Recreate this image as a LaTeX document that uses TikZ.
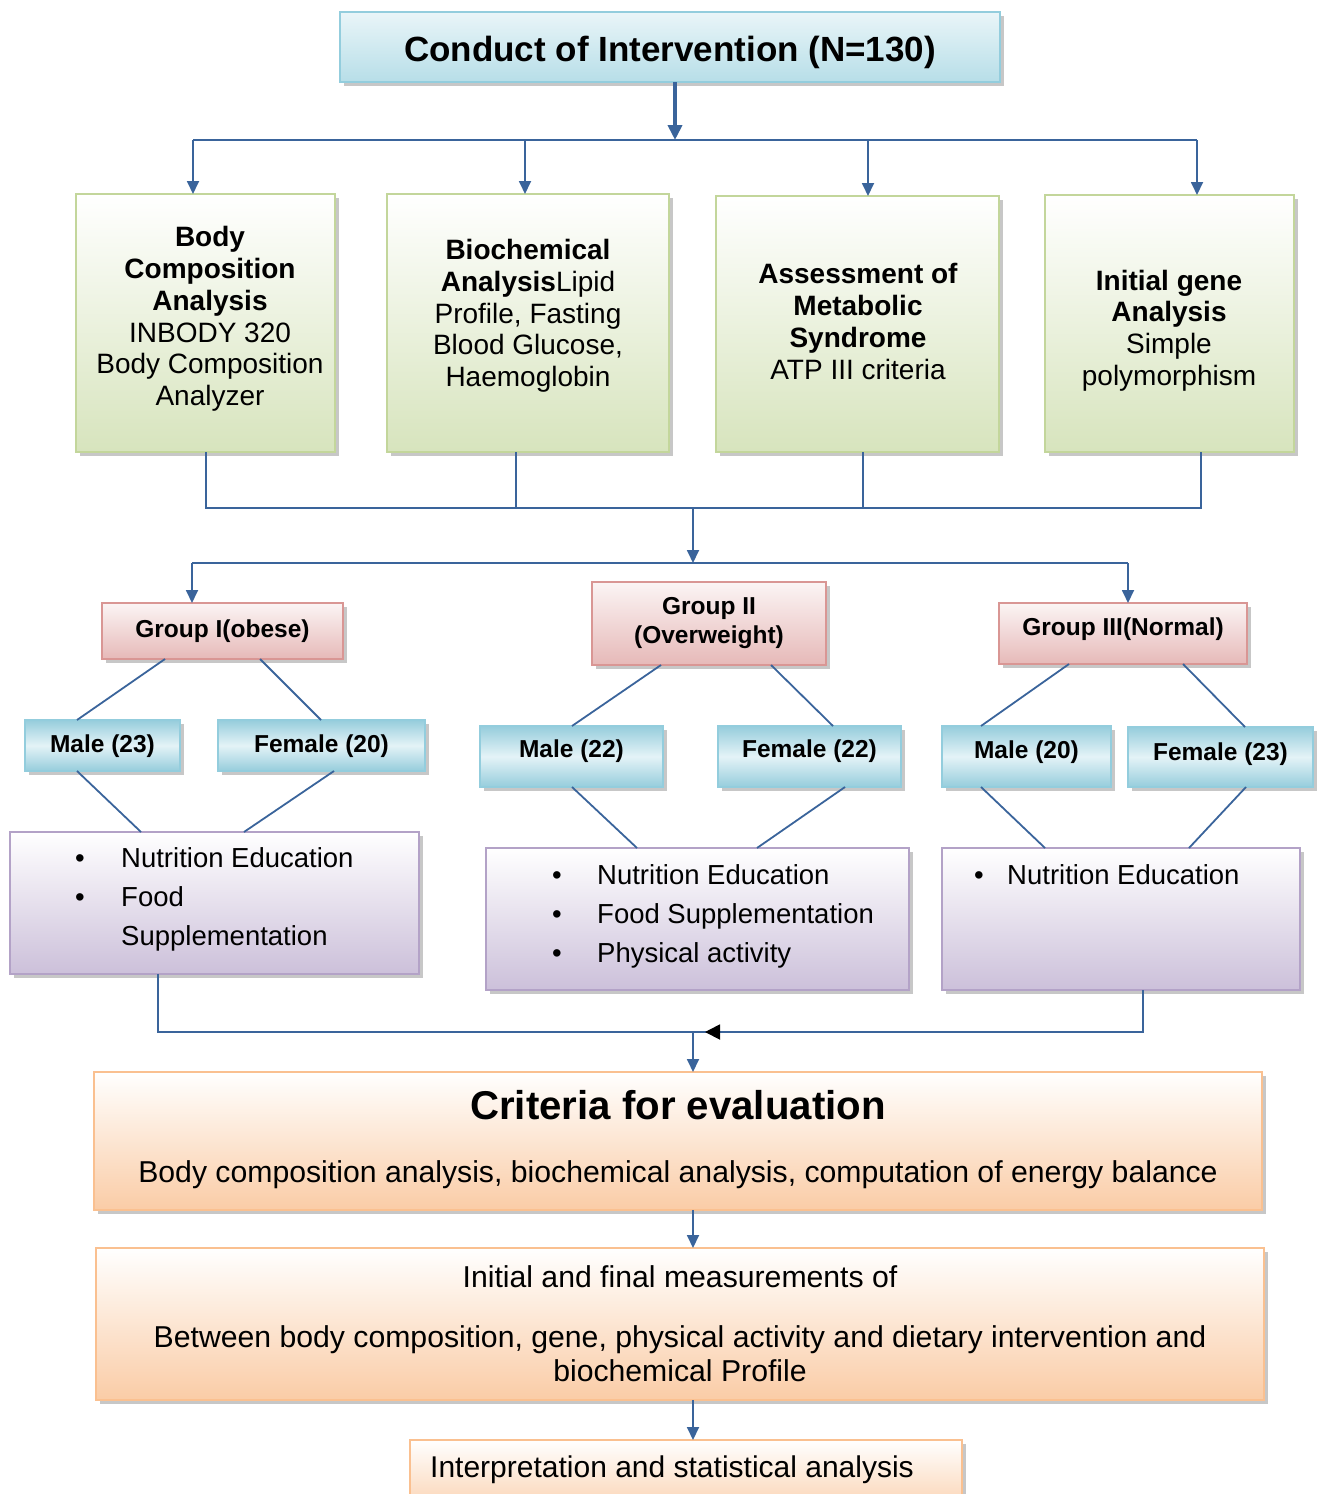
\documentclass[tikz,border=0pt]{standalone}
\usepackage{fontspec}
\setmainfont{Liberation Sans}
\usetikzlibrary{arrows.meta,shadows}
\definecolor{lc}{RGB}{58,100,155}
\definecolor{tealB}{RGB}{147,205,221}
\definecolor{tealF}{RGB}{183,222,232}
\definecolor{tealD}{RGB}{150,205,220}
\definecolor{tealL}{RGB}{228,243,247}
\definecolor{greenB}{RGB}{195,214,155}
\definecolor{greenF}{RGB}{215,228,189}
\definecolor{redB}{RGB}{217,150,148}
\definecolor{redF}{RGB}{230,185,184}
\definecolor{purB}{RGB}{179,162,199}
\definecolor{purF}{RGB}{204,192,218}
\definecolor{orB}{RGB}{250,192,144}
\definecolor{orF}{RGB}{250,204,166}
\newcommand{\rb}[2]{\raisebox{#1}[\height][\depth]{#2}}
\begin{document}
\begin{tikzpicture}[x=1pt,y=-1pt,
  conn/.style={draw=lc, line width=1.8pt},
  arr/.style={conn, -{Triangle[width=12pt,length=13pt]}},
  bigarr/.style={draw=lc, line width=4pt, -{Triangle[width=14pt,length=15pt]}},
  box/.style={draw, line width=1.6pt, inner sep=2pt, outer sep=0pt, anchor=north west, align=center,
    drop shadow={shadow xshift=4pt, shadow yshift=-4pt, fill=black!40, opacity=.55}},
  titlebox/.style={box, draw=tealB, top color=tealF!30, bottom color=tealF},
  greenbox/.style={box, draw=greenB, top color=white, bottom color=greenF},
  gtxt/.style={inner sep=0pt, align=center, font=\fontsize{28}{31.7}\selectfont},
  redbox/.style={box, draw=redB, top color=redF!15, bottom color=redF, font=\bfseries\fontsize{24.5}{29}\selectfont},
  sexbox/.style={box, draw=tealB, shading angle=-45, top color=tealD, bottom color=tealD, middle color=tealL, font=\bfseries\fontsize{24.5}{29}\selectfont},
  purbox/.style={box, draw=purB, top color=white, bottom color=purF},
  orbox/.style={box, draw=orB, top color=white, bottom color=orF},
  ptxt/.style={anchor=base west, inner sep=0pt, font=\fontsize{27.5}{33}\selectfont},
  bul/.style={anchor=base, inner sep=0pt, font=\fontsize{27.5}{33}\selectfont},
  otxt/.style={inner sep=0pt, align=center, font=\fontsize{30.2}{34}\selectfont},
]
\useasboundingbox (0,0) rectangle (1320,1494);

% ---------- boxes ----------
\node[titlebox, minimum width=660pt, minimum height=70pt, font=\bfseries\fontsize{35}{40}\selectfont] (top) at (340,12) {\rb{-5pt}{Conduct of Intervention (N=130)}};

\node[greenbox, minimum width=259pt, minimum height=258pt] (g1) at (76,194) {};
\node[greenbox, minimum width=282pt, minimum height=258pt] (g2) at (387,194) {};
\node[greenbox, minimum width=283pt, minimum height=256pt] (g3) at (716,196) {};
\node[greenbox, minimum width=249pt, minimum height=257pt] (g4) at (1045,195) {};
\node[gtxt] (g1t) at (210,319)
  {\textbf{Body}\\\textbf{Composition}\\\textbf{Analysis}\\INBODY 320\\Body Composition\\Analyzer};
\node[gtxt] (g2t) at (528,316)
  {\textbf{Biochemical}\\\textbf{Analysis}Lipid\\Profile, Fasting\\Blood Glucose,\\Haemoglobin};
\node[gtxt] (g3t) at (858,321.5)
  {\textbf{Assessment of}\\\textbf{Metabolic}\\\textbf{Syndrome}\\ATP III criteria};
\node[gtxt] (g4t) at (1169,330.5)
  {\textbf{Initial gene}\\\textbf{Analysis}\\Simple\\polymorphism};

\node[redbox, minimum width=241pt, minimum height=56pt] (grI) at (102,603) {Group I(obese)};
\node[redbox, minimum width=234pt, minimum height=83pt] (grII) at (592,582) {Group II\\(Overweight)};
\node[redbox, minimum width=248pt, minimum height=61pt] (grIII) at (999,603) {\rb{4pt}{Group III(Normal)}};

\node[sexbox, minimum width=155pt, minimum height=51pt] (m1) at (25,720) {\rb{-1pt}{Male (23)}};
\node[sexbox, minimum width=207pt, minimum height=51pt] (f1) at (218,720) {\rb{-1pt}{Female (20)}};
\node[sexbox, minimum width=183pt, minimum height=61pt] (m2) at (480,726) {\rb{5pt}{Male (22)}};
\node[sexbox, minimum width=183pt, minimum height=61pt] (f2) at (718,726) {\rb{5pt}{Female (22)}};
\node[sexbox, minimum width=169pt, minimum height=61pt] (m3) at (942,726) {\rb{4pt}{Male (20)}};
\node[sexbox, minimum width=185pt, minimum height=60pt] (f3) at (1128,727) {\rb{3pt}{Female (23)}};

\node[purbox, minimum width=409pt, minimum height=142pt] (p1) at (10,832) {};
\node[purbox, minimum width=423pt, minimum height=142pt] (p2) at (486,848) {};
\node[purbox, minimum width=358pt, minimum height=142pt] (p3) at (942,848) {};

\node[bul] (b11) at (80,867) {•};
\node[ptxt] (t11) at (121,867) {Nutrition Education};
\node[bul] (b12) at (80,906) {•};
\node[ptxt] (t12) at (121,906) {Food};
\node[ptxt] (t13) at (121,945) {Supplementation};

\node[bul] (b21) at (557,884) {•};
\node[ptxt] (t21) at (597,884) {Nutrition Education};
\node[bul] (b22) at (557,923) {•};
\node[ptxt] (t22) at (597,923) {Food Supplementation};
\node[bul] (b23) at (557,962) {•};
\node[ptxt] (t23) at (597,962) {Physical activity};

\node[bul] (b31) at (979,884) {•};
\node[ptxt] (t31) at (1007,884) {Nutrition Education};

\node[orbox, minimum width=1168pt, minimum height=138pt] (crit) at (94,1072) {};
\node[inner sep=0pt, font=\bfseries\fontsize{40.2}{44}\selectfont] (critT) at (678,1105) {Criteria for evaluation};
\node[otxt] (critS) at (678,1175) {Body composition analysis, biochemical analysis, computation of energy balance};

\node[orbox, minimum width=1168pt, minimum height=152pt] (meas) at (96,1248) {};
\node[otxt] (measA) at (680,1277) {Initial and final measurements of};
\node[otxt] (measB) at (680,1354) {Between body composition, gene, physical activity and dietary intervention and\\biochemical Profile};

\node[orbox, minimum width=552pt, minimum height=80pt] (interp) at (410,1440) {};
\node[otxt, anchor=west, font=\fontsize{30}{34}\selectfont] (interpT) at (430,1470) {Interpretation and statistical analysis};

% ---------- connectors ----------
\coordinate (j0) at (675,140);
\draw[bigarr] (top.south -| j0) -- (j0);
\coordinate (hL) at (193,140);
\coordinate (hR) at (1197,140);
\draw[conn] (hL) -- (hR);
\draw[arr] (hL) -- (g1.north -| hL);
\draw[arr] (525,140) -- (g2.north -| 525,0);
\draw[arr] (868,140) -- (g3.north -| 868,0);
\draw[arr] (hR) -- (g4.north -| hR);

\coordinate (k1) at (206,508);
\coordinate (k4) at (1201,508);
\draw[conn] (g1.south -| k1) -- (k1) -- (k4) -- (g4.south -| k4);
\draw[conn] (g2.south -| 516,0) -- (516,508);
\draw[conn] (g3.south -| 863,0) -- (863,508);
\coordinate (k0) at (693,508);
\coordinate (l0) at (693,563);
\draw[arr] (k0) -- (l0);
\coordinate (lL) at (192,563);
\coordinate (lR) at (1128,563);
\draw[conn] (lL) -- (lR);
\draw[arr] (lL) -- (grI.north -| lL);
\draw[arr] (lR) -- (grIII.north -| lR);

% group -> sex boxes -> programmes
\draw[conn] (grI.south -| 165,0) -- (m1.north -| 77,0);
\draw[conn] (grI.south -| 260,0) -- (f1.north -| 321,0);
\draw[conn] (m1.south -| 77,0) -- (p1.north -| 141,0);
\draw[conn] (f1.south -| 334,0) -- (p1.north -| 244,0);

\draw[conn] (grII.south -| 661,0) -- (m2.north -| 572,0);
\draw[conn] (grII.south -| 771,0) -- (f2.north -| 833,0);
\draw[conn] (m2.south -| 572,0) -- (p2.north -| 637,0);
\draw[conn] (f2.south -| 845,0) -- (p2.north -| 757,0);

\draw[conn] (grIII.south -| 1069,0) -- (m3.north -| 981,0);
\draw[conn] (grIII.south -| 1183,0) -- (f3.north -| 1245,0);
\draw[conn] (m3.south -| 981,0) -- (p3.north -| 1045,0);
\draw[conn] (f3.south -| 1246,0) -- (p3.north -| 1189,0);

% programmes -> criteria
\coordinate (q1) at (158,1032);
\coordinate (q3) at (1143,1032);
\coordinate (q0) at (693,1032);
\coordinate (qm) at (705,1032);
\draw[conn] (p1.south -| q1) -- (q1) -- (q3) -- (p3.south -| q3);
\draw[conn, -{Triangle[width=15pt,length=15pt,color=black]}] (q3) -- (qm);
\draw[arr] (q0) -- (crit.north -| q0);

\draw[arr] (crit.south -| q0) -- (meas.north -| q0);
\draw[arr] (meas.south -| q0) -- (interp.north -| q0);
\end{tikzpicture}
\end{document}
